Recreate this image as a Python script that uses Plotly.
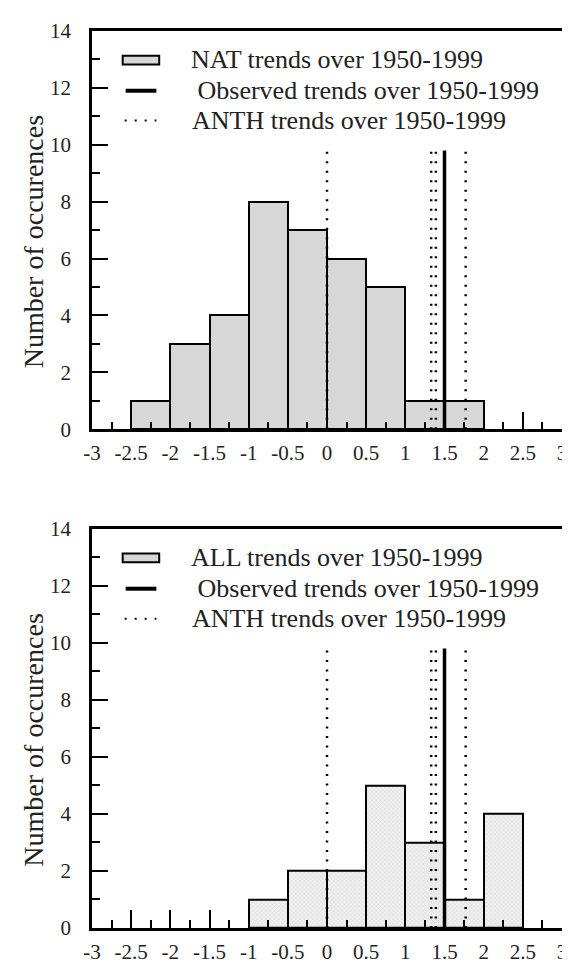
import plotly.graph_objects as go

# ---------------- data ----------------
bin_width = 0.5
nat_bin_left = [-2.5, -2.0, -1.5, -1.0, -0.5, 0.0, 0.5, 1.0, 1.5]
nat_counts = [1, 3, 4, 8, 7, 6, 5, 1, 1]

all_bin_left = [-1.0, -0.5, 0.0, 0.5, 1.0, 1.5, 2.0]
all_counts = [1, 2, 2, 5, 3, 1, 4]

observed_trend = [1.5]
anth_trends = [0.0, 1.33, 1.39, 1.77]
line_top = 9.8

x_tick_vals = [-3, -2.5, -2, -1.5, -1, -0.5, 0, 0.5, 1, 1.5, 2, 2.5, 3]
x_tick_labels = ["-3", "-2.5", "-2", "-1.5", "-1", "-0.5", "0", "0.5", "1", "1.5", "2", "2.5", "3"]
y_tick_vals = [0, 2, 4, 6, 8, 10, 12, 14]
y_tick_labels = ["0", "2", "4", "6", "8", "10", "12", "14"]

top_legend = ["NAT trends over 1950-1999", " Observed trends over 1950-1999", "ANTH trends over 1950-1999"]
bottom_legend = ["ALL trends over 1950-1999", " Observed trends over 1950-1999", "ANTH trends over 1950-1999"]
y_title = "Number of occurences"

# ---------------- figure ----------------
FONT = "Liberation Serif, Times New Roman, serif"
TXT = "#222222"

fig = go.Figure()

def add_panel(xa, ya, bin_left, counts, fill_marker):
    centers = [b + bin_width / 2 for b in bin_left]
    fig.add_trace(go.Bar(x=centers, y=counts, width=bin_width,
                         marker=fill_marker, xaxis=xa, yaxis=ya, showlegend=False))
    for v in anth_trends:
        fig.add_trace(go.Scatter(x=[v, v], y=[0, line_top], mode="lines",
                                 line=dict(color="black", width=2.5, dash="2px,7.5px"),
                                 xaxis=xa, yaxis=ya, showlegend=False))
    for v in observed_trend:
        fig.add_trace(go.Scatter(x=[v, v], y=[0, line_top], mode="lines",
                                 line=dict(color="black", width=3.5),
                                 xaxis=xa, yaxis=ya, showlegend=False))

add_panel("x", "y", nat_bin_left, nat_counts,
          dict(color="#d7d7d7", line=dict(color="black", width=2)))
add_panel("x2", "y2", all_bin_left, all_counts,
          dict(color="#ebebeb", line=dict(color="black", width=2),
               pattern=dict(shape="x", fgcolor="#c4c4c4", bgcolor="#efefef", size=3, solidity=0.3)))

def xaxis_cfg(anchor, domain):
    return dict(domain=domain, anchor=anchor, range=[-3, 3],
                tickmode="array", tickvals=x_tick_vals, ticktext=x_tick_labels,
                ticks="inside", ticklen=18, tickwidth=2, tickcolor="black",
                minor=dict(tickmode="linear", tick0=0.25, dtick=0.5, ticks="inside",
                           ticklen=8, tickwidth=2, tickcolor="black"),
                showline=True, linewidth=2.5, linecolor="black", mirror=True,
                showgrid=False, zeroline=False, ticklabelstandoff=3,
                tickfont=dict(family=FONT, size=21, color=TXT))

def yaxis_cfg(anchor, domain):
    return dict(domain=domain, anchor=anchor, range=[0, 14],
                tickmode="array", tickvals=y_tick_vals, ticktext=y_tick_labels,
                ticks="inside", ticklen=16, tickwidth=2, tickcolor="black",
                minor=dict(tickmode="linear", tick0=1, dtick=2, ticks="inside",
                           ticklen=8, tickwidth=2, tickcolor="black"),
                showline=True, linewidth=2.5, linecolor="black", mirror=True,
                showgrid=False, zeroline=False, ticklabelstandoff=14,
                tickfont=dict(family=FONT, size=21, color=TXT))

fig.update_layout(
    width=570, height=967,
    margin=dict(l=84, r=11, t=14, b=34),
    paper_bgcolor="white", plot_bgcolor="white",
    bargap=0,
    xaxis=xaxis_cfg("y", [0, 1]),
    yaxis=yaxis_cfg("x", [0.556, 1]),
    xaxis2=xaxis_cfg("y2", [0, 1]),
    yaxis2=yaxis_cfg("x2", [0, 0.445]),
)

def add_legend(xa, ya, labels, fill):
    xr, yr = xa + " domain", ya + " domain"
    fig.add_shape(type="rect", xref=xr, yref=yr, x0=0.0653, x1=0.143, y0=0.916, y1=0.938,
                  fillcolor=fill, line=dict(color="black", width=2))
    fig.add_shape(type="line", xref=xr, yref=yr, x0=0.0716, x1=0.137, y0=0.850, y1=0.850,
                  line=dict(color="black", width=4))
    fig.add_shape(type="line", xref=xr, yref=yr, x0=0.0695, x1=0.137, y0=0.775, y1=0.775,
                  line=dict(color="black", width=2, dash="2px,8px"))
    ys = [0.929, 0.850, 0.775]
    xs = [0.206, 0.206, 0.208]
    for t, xx, yy in zip(labels, xs, ys):
        fig.add_annotation(text=t.replace(" ", "&nbsp;", 1) if t.startswith(" ") else t,
                           xref=xr, yref=yr, x=xx, y=yy,
                           xanchor="left", yanchor="middle", showarrow=False,
                           font=dict(family=FONT, size=26, color=TXT))
    # y-axis title
    fig.add_annotation(text=y_title, xref=xr, yref=yr, x=-0.125, y=0.47,
                       xanchor="center", yanchor="middle", textangle=-90, showarrow=False,
                       font=dict(family=FONT, size=28, color=TXT))

add_legend("x", "y", top_legend, "#d7d7d7")
add_legend("x2", "y2", bottom_legend, "#d7d7d7")

fig.write_html("out.html")
